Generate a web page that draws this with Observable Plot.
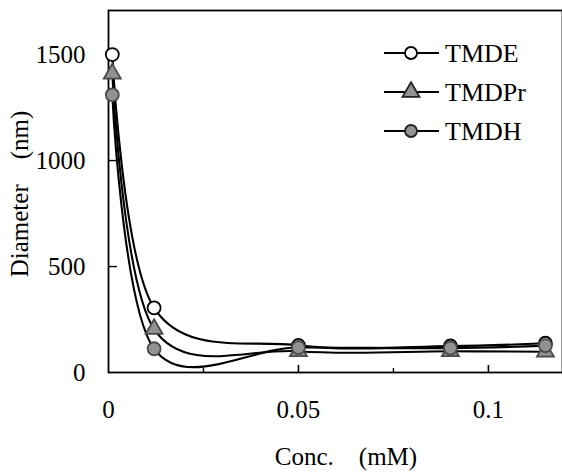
<!DOCTYPE html>
<html>
<head>
<meta charset="utf-8">
<script src="https://cdn.jsdelivr.net/npm/d3@7"></script>
<script src="https://cdn.jsdelivr.net/npm/@observablehq/plot@0.6"></script>
<style>
  html, body { margin: 0; padding: 0; background: #fff; }
  #chart { position: relative; width: 562px; height: 472px; }
  svg { font-family: "Liberation Serif", "DejaVu Serif", serif; }
</style>
</head>
<body>
<div id="chart"></div>
<script>
// Data
const conc = [0.001, 0.012, 0.05, 0.09, 0.115];
const tmde = [1500, 305, 128, 125, 138];
const tmdpr = [1410, 205, 100, 100, 98];
const tmdh = [1310, 112, 118, 115, 127];
const seriesNames = ["TMDE", "TMDPr", "TMDH"];
const xTickLabels = [0, 0.05, 0.1];
const xMinorTicks = [0.025, 0.075];
const yTicks = [0, 500, 1000, 1500];

const rows = [];
[tmde, tmdpr, tmdh].forEach((vals, i) => {
  vals.forEach((v, j) => rows.push({series: seriesNames[i], x: conc[j], y: v}));
});
const sel = s => rows.filter(d => d.series === s);

const styles = {
  TMDE: {symbol: "circle", fill: "white", stroke: "black", r: 6.5},
  TMDPr: {symbol: "triangle", fill: "#929292", stroke: "#4a4a4a", r: 6.3},
  TMDH: {symbol: "circle", fill: "#929292", stroke: "#4a4a4a", r: 6.5}
};

const marks = [
  Plot.frame({stroke: "black", strokeWidth: 1.8}),
  Plot.axisY({ticks: yTicks, tickSize: 0, tickPadding: 23, fontSize: 25, tickFormat: d => String(d), label: null}),
  Plot.axisY({ticks: [500, 1000], tickSize: -9, tickFormat: () => "", label: null, strokeWidth: 1.4}),
  Plot.axisX({ticks: xTickLabels, tickSize: 0, tickPadding: 28, fontSize: 25, tickFormat: d => String(d), label: null}),
  Plot.axisX({ticks: [0.05, 0.1], tickSize: -7, tickFormat: () => "", label: null, strokeWidth: 1.6}),
  Plot.axisX({ticks: xMinorTicks, tickSize: -4, tickFormat: () => "", label: null, strokeWidth: 1.4})
];
for (const s of seriesNames) {
  marks.push(Plot.line(sel(s), {x: "x", y: "y", curve: "cardinal", stroke: "black", strokeWidth: 2.1}));
}
for (const s of seriesNames) {
  const st = styles[s];
  marks.push(Plot.dot(sel(s), {x: "x", y: "y", symbol: () => st.symbol, r: st.r, fill: st.fill, stroke: st.stroke, strokeWidth: 1.8}));
}

const chart = Plot.plot({
  width: 562,
  height: 472,
  marginLeft: 108,
  marginRight: 0,
  marginTop: 10,
  marginBottom: 100,
  style: {fontFamily: "Liberation Serif, serif", fontSize: "25px", color: "black", background: "white"},
  x: {domain: [0, 0.1195]},
  y: {domain: [0, 1708]},
  marks
});
document.getElementById("chart").appendChild(chart);

// axis titles and legend
const svg = d3.select(chart);
svg.append("text")
  .attr("transform", "translate(22,194) rotate(-90)")
  .attr("text-anchor", "middle")
  .attr("dominant-baseline", "middle")
  .style("font-size", "25px")
  .text("Diameter\u2003(nm)");
svg.append("text")
  .attr("x", 346).attr("y", 465)
  .attr("text-anchor", "middle")
  .style("font-size", "25px")
  .text("Conc.\u2003(mM)");

const leg = svg.append("g");
seriesNames.forEach((s, i) => {
  const y = 53 + i * 39;
  const st = styles[s];
  leg.append("line").attr("x1", 384).attr("x2", 439).attr("y1", y).attr("y2", y)
    .attr("stroke", "black").attr("stroke-width", 2.1);
  const sym = st.symbol === "circle" ? d3.symbolCircle : d3.symbolTriangle;
  const area = st.symbol === "circle" ? Math.PI * 6 * 6 : Math.PI * 6.3 * 6.3;
  leg.append("path").attr("d", d3.symbol(sym, area)())
    .attr("transform", `translate(411,${y})`)
    .attr("fill", st.fill).attr("stroke", st.stroke === "black" ? "black" : "#222").attr("stroke-width", 1.8);
  leg.append("text").attr("x", 445).attr("y", y).attr("dominant-baseline", "central")
    .attr("text-anchor", "start")
    .style("font-size", "26px").text(s);
});
</script>
</body>
</html>
